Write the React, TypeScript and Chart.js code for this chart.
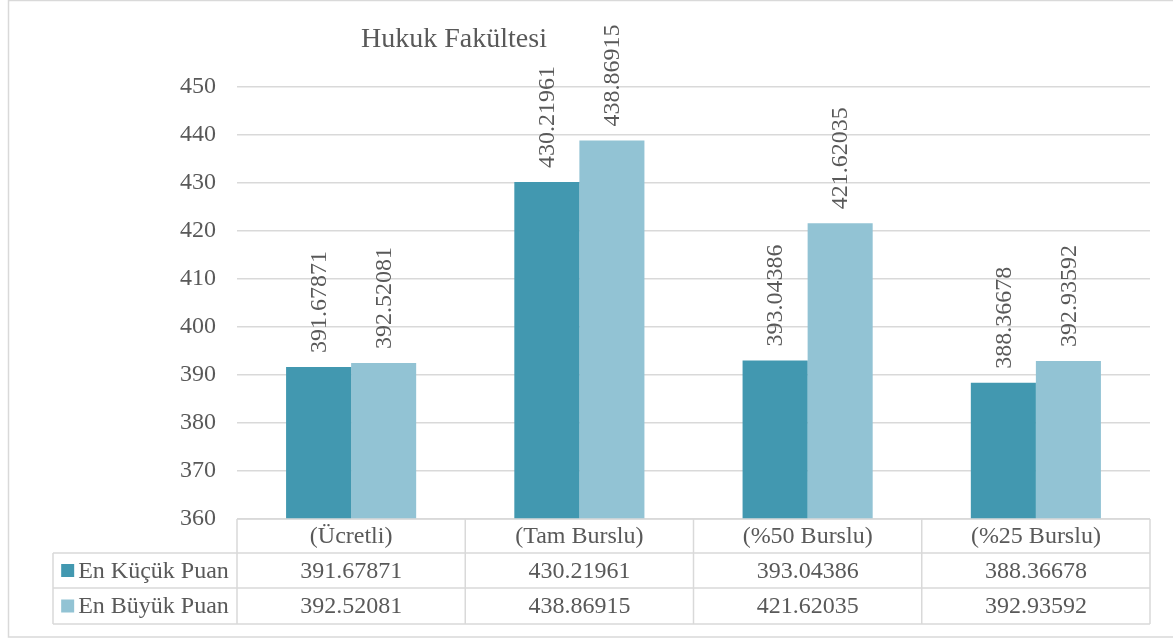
import React, { useEffect, useRef } from "react";
import { Chart, registerables } from "chart.js";

Chart.register(...registerables);

const title = "Hukuk Fakültesi";
const categories = ["(Ücretli)", "(Tam Burslu)", "(%50 Burslu)", "(%25 Burslu)"];
const seriesNames = ["En Küçük Puan", "En Büyük Puan"];
const minScores = [391.67871, 430.21961, 393.04386, 388.36678];
const maxScores = [392.52081, 438.86915, 421.62035, 392.93592];
const seriesColors = ["#4298B0", "#92C3D4"];
const yMin = 360;
const yMax = 450;
const yStep = 10;

const FONT = "'Liberation Serif', 'Times New Roman', serif";
const TEXT = "#595959";
const LINE = "#d9d9d9";

const fmt = (v: number) => v.toFixed(5);

const extrasPlugin = {
  id: "extras",
  afterDraw(chart: any) {
    const ctx = chart.ctx as CanvasRenderingContext2D;
    const x = chart.scales.x;
    const area = chart.chartArea;
    ctx.save();
    // outer frame
    ctx.strokeStyle = LINE;
    ctx.lineWidth = 1.5;
    ctx.strokeRect(8.5, 0.5, 1200, 636.5);

    // title
    ctx.fillStyle = TEXT;
    ctx.font = `28px ${FONT}`;
    ctx.textAlign = "center";
    ctx.textBaseline = "middle";
    ctx.fillText(title, 454, 40);

    // data labels
    ctx.font = `24px ${FONT}`;
    chart.data.datasets.forEach((ds: any, di: number) => {
      const meta = chart.getDatasetMeta(di);
      meta.data.forEach((bar: any, i: number) => {
        ctx.save();
        ctx.translate(bar.x, bar.y - 14);
        ctx.rotate(-Math.PI / 2);
        ctx.textAlign = "left";
        ctx.textBaseline = "middle";
        ctx.fillStyle = TEXT;
        ctx.fillText(fmt(ds.data[i]), 0, 1);
        ctx.restore();
      });
    });

    // data table
    const n = categories.length;
    const left = area.left;
    const right = area.right;
    const colW = (right - left) / n;
    const rowTops = [area.bottom, area.bottom + 34, area.bottom + 69, area.bottom + 105];
    const legendLeft = 53;
    ctx.strokeStyle = LINE;
    ctx.lineWidth = 1.5;
    ctx.beginPath();
    // horizontal
    ctx.moveTo(left, rowTops[0]);
    ctx.lineTo(right, rowTops[0]);
    for (let r = 1; r < rowTops.length; r++) {
      ctx.moveTo(legendLeft, rowTops[r]);
      ctx.lineTo(right, rowTops[r]);
    }
    // vertical
    ctx.moveTo(legendLeft, rowTops[1]);
    ctx.lineTo(legendLeft, rowTops[3]);
    for (let c = 0; c <= n; c++) {
      const cx = left + c * colW;
      ctx.moveTo(cx, rowTops[0]);
      ctx.lineTo(cx, rowTops[3]);
    }
    ctx.stroke();

    ctx.font = `24px ${FONT}`;
    ctx.fillStyle = TEXT;
    ctx.textBaseline = "middle";
    ctx.textAlign = "center";
    categories.forEach((c, i) => {
      const cx = x.getPixelForValue(i);
      ctx.fillText(c, cx, (rowTops[0] + rowTops[1]) / 2 + 1);
    });
    chart.data.datasets.forEach((ds: any, di: number) => {
      const yMid = (rowTops[di + 1] + rowTops[di + 2]) / 2 + 1;
      ds.data.forEach((v: number, i: number) => {
        ctx.textAlign = "center";
        ctx.fillStyle = TEXT;
        ctx.fillText(fmt(v), x.getPixelForValue(i), yMid);
      });
      // legend cell
      const sq = 13;
      const gap = 4;
      const tw = ctx.measureText(ds.label).width;
      const total = sq + gap + tw;
      const start = (legendLeft + left) / 2 - total / 2;
      ctx.fillStyle = ds.backgroundColor;
      ctx.fillRect(start, yMid - sq / 2 - 1, sq, sq);
      ctx.fillStyle = TEXT;
      ctx.textAlign = "left";
      ctx.fillText(ds.label, start + sq + gap, yMid);
    });
    ctx.restore();
  },
};

export default function App() {
  const ref = useRef<HTMLCanvasElement | null>(null);
  useEffect(() => {
    document.body.style.margin = "0";
    const canvas = ref.current;
    if (!canvas) return;
    const chart = new Chart(canvas, {
      type: "bar",
      data: {
        labels: categories,
        datasets: [
          { label: seriesNames[0], data: minScores, backgroundColor: seriesColors[0], borderWidth: 0 },
          { label: seriesNames[1], data: maxScores, backgroundColor: seriesColors[1], borderWidth: 0 },
        ],
      },
      options: {
        responsive: false,
        animation: false,
        devicePixelRatio: 1,
        layout: { padding: { top: 87, bottom: 120, right: 23, left: 0 } },
        datasets: { bar: { categoryPercentage: 0.57, barPercentage: 1 } },
        plugins: {
          legend: { display: false },
          title: { display: false },
          tooltip: { enabled: false },
        },
        scales: {
          x: {
            ticks: { display: false },
            grid: { display: false, drawTicks: false },
            border: { display: false },
          },
          y: {
            min: yMin,
            max: yMax,
            ticks: {
              stepSize: yStep,
              padding: 21,
              color: TEXT,
              font: { family: FONT, size: 24 },
            },
            grid: { color: LINE, lineWidth: 1.5, drawTicks: false },
            border: { display: false },
            afterFit(scale: any) {
              scale.width = 237;
            },
          },
        },
      },
      plugins: [extrasPlugin],
    });
    return () => chart.destroy();
  }, []);
  return (
    <canvas
      ref={ref}
      width={1173}
      height={639}
      style={{ position: "absolute", left: 0, top: 0, width: 1173, height: 639 }}
    />
  );
}
